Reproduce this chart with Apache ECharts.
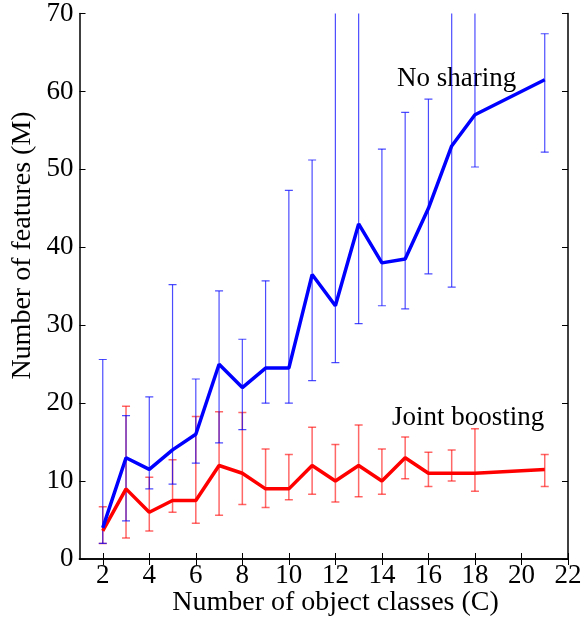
<!DOCTYPE html>
<html><head><meta charset="utf-8">
<script src="https://cdn.jsdelivr.net/npm/echarts@6/dist/echarts.min.js"></script>
<style>html,body{margin:0;padding:0;background:#fff}#c{width:587px;height:621px}</style>
</head><body><div id="c"></div>
<script>
const classes = [2,3,4,5,6,7,8,9,10,11,12,13,14,15,16,17,18,21];
const noShare = [4,13,11.5,14,16,25,22,24.5,24.5,36.5,32.5,43,38,38.5,45,53,57,61.5];
const noShareLow = [2,4.9,9,9.6,12.3,14.9,16.6,20,20,22.9,25.2,30.2,32.5,32.1,36.6,34.9,50.3,52.2];
const noShareHigh = [25.6,18.4,20.8,35.2,23.1,34.4,28.2,35.7,47.3,51.2,75,75,52.6,57.3,59,75,72,67.4];
const joint = [3.6,9,6,7.5,7.5,12,11,9,9,12,10,12,10,13,11,11,11,11.5];
const jointLow = [2,2.7,3.6,6,4.6,5.6,7,6.6,7.6,8.3,7.3,8,8.3,10.3,9.3,10,8.7,9.3];
const jointHigh = [6.7,19.6,10.5,12.75,18.3,18.9,18.8,14.1,13.4,16.9,14.7,17.2,14.1,15.65,13.7,14,16.7,13.4];
const xTicks = [2,4,6,8,10,12,14,16,18,20,22];
const yTicks = [0,10,20,30,40,50,60,70];
const xTitle = 'Number of object classes (C)';
const yTitle = 'Number of features (M)';
const labelNoShare = 'No sharing';
const labelJoint = 'Joint boosting';

const font = '"Liberation Serif", "DejaVu Serif", serif';
const chart = echarts.init(document.getElementById('c'));

function errData(lo, hi){ return classes.map((c,i)=>[c, lo[i], hi[i]]); }
function errSeries(name, lo, hi, color, w){
  return {
    type:'custom', name, data: errData(lo,hi), clip:true, z:1,
    renderItem(params, api){
      const x = api.value(0);
      const p1 = api.coord([x, api.value(1)]);
      const p2 = api.coord([x, api.value(2)]);
      const h = 4;
      const st = {stroke:color, lineWidth:w};
      return {type:'group', children:[
        {type:'line', shape:{x1:p1[0],y1:p1[1],x2:p2[0],y2:p2[1]}, style:st},
        {type:'line', shape:{x1:p1[0]-h,y1:p1[1],x2:p1[0]+h,y2:p1[1]}, style:st},
        {type:'line', shape:{x1:p2[0]-h,y1:p2[1],x2:p2[0]+h,y2:p2[1]}, style:st}
      ]};
    }
  };
}
const axisLine = {show:true, lineStyle:{color:'#000', width:1.5}};
chart.setOption({
  animation:false,
  backgroundColor:'#fff',
  grid:{left:79.5, right:19, top:12, bottom:62},
  xAxis:[
    {type:'value', min:1, max:22, position:'bottom',
     axisLine, splitLine:{show:false},
     axisTick:{inside:true, length:6, customValues:xTicks, lineStyle:{color:'#000'}},
     axisLabel:{customValues:xTicks, color:'#000', fontFamily:font, fontSize:27, margin:3}},
    {type:'value', min:1, max:22, position:'top',
     axisLine, splitLine:{show:false},
     axisTick:{inside:true, length:6, customValues:xTicks, lineStyle:{color:'#000'}},
     axisLabel:{show:false}}
  ],
  yAxis:[
    {type:'value', min:0, max:70, interval:10, position:'left',
     axisLine, splitLine:{show:false},
     axisTick:{inside:true, length:6, customValues:yTicks, lineStyle:{color:'#000'}},
     axisLabel:{customValues:yTicks, color:'#000', fontFamily:font, fontSize:27, margin:6}},
    {type:'value', min:0, max:70, interval:10, position:'right',
     axisLine, splitLine:{show:false},
     axisTick:{inside:true, length:6, customValues:yTicks, lineStyle:{color:'#000'}},
     axisLabel:{show:false}}
  ],
  series:[
    errSeries('jointErr', jointLow, jointHigh, 'rgba(255,0,0,0.6)', 1.5),
    errSeries('noShareErr', noShareLow, noShareHigh, 'rgba(0,0,255,0.7)', 1.2),
    {type:'line', name:labelJoint, data:classes.map((c,i)=>[c,joint[i]]),
     showSymbol:false, lineStyle:{color:'#ff0000', width:3.5}, z:3},
    {type:'line', name:labelNoShare, data:classes.map((c,i)=>[c,noShare[i]]),
     showSymbol:false, lineStyle:{color:'#0000ff', width:3.5}, z:3}
  ],
  graphic:[
    {type:'text', x:397, y:79, style:{text:labelNoShare, fill:'#000', font:'27px '+font, verticalAlign:'middle'}},
    {type:'text', x:392, y:418, style:{text:labelJoint, fill:'#000', font:'27px '+font, verticalAlign:'middle'}},
    {type:'text', x:335.5, y:603, style:{text:xTitle, fill:'#000', font:'28px '+font, align:'center', verticalAlign:'middle'}},
    {type:'text', x:23, y:245.5, rotation:Math.PI/2, style:{text:yTitle, fill:'#000', font:'28px '+font, align:'center', verticalAlign:'middle'}}
  ]
});
</script></body></html>
